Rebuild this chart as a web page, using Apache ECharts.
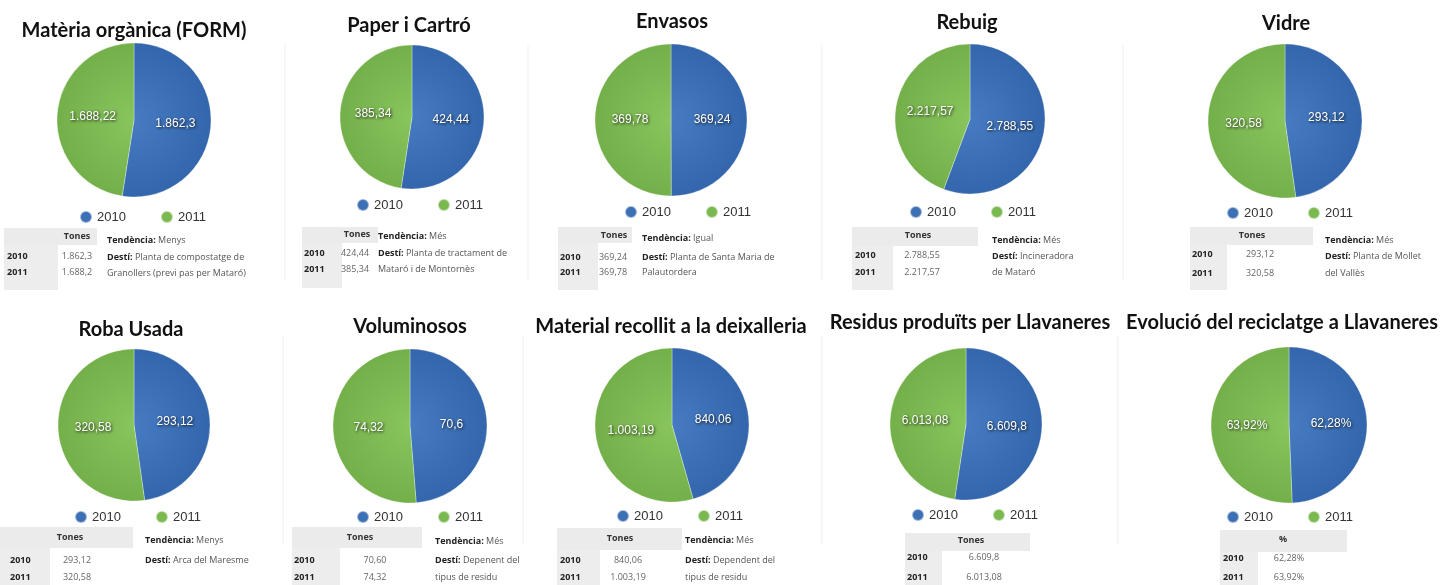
<!DOCTYPE html>
<html>
<head>
<meta charset="utf-8">
<script src="https://cdn.jsdelivr.net/npm/echarts/dist/echarts.min.js"></script>
<style>
html,body{margin:0;padding:0;background:#fff;}
#chart{width:1442px;height:585px;}
</style>
</head>
<body>
<div id="chart"></div>
<script>
// ---- data ----
const titles = ['Matèria orgànica (FORM)', 'Paper i Cartró', 'Envasos', 'Rebuig', 'Vidre',
  'Roba Usada', 'Voluminosos', 'Material recollit a la deixalleria', 'Residus produïts per Llavaneres',
  'Evolució del reciclatge a Llavaneres'];
const years = ['2010', '2011'];
const values2010 = [1862.3, 424.44, 369.24, 2788.55, 293.12, 293.12, 70.6, 840.06, 6609.8, 62.28];
const values2011 = [1688.22, 385.34, 369.78, 2217.57, 320.58, 320.58, 74.32, 1003.19, 6013.08, 63.92];
const tableHeaders = ['Tones', 'Tones', 'Tones', 'Tones', 'Tones', 'Tones', 'Tones', 'Tones', 'Tones', '%'];
const table2010 = ['1.862,3', '424,44', '369,24', '2.788,55', '293,12', '293,12', '70,60', '840,06', '6.609,8', '62,28%'];
const table2011 = ['1.688,2', '385,34', '369,78', '2.217,57', '320,58', '320,58', '74,32', '1.003,19', '6.013,08', '63,92%'];
const tendencia = ['Menys', 'Més', 'Igual', 'Més', 'Més', 'Menys', 'Més', 'Més', '', ''];
const destiLine1 = ['Planta de compostatge de', 'Planta de tractament de', 'Planta de Santa Maria de',
  'Incineradora', 'Planta de Mollet', 'Arca del Maresme', 'Depenent del', 'Dependent del', '', ''];
const destiLine2 = ['Granollers (previ pas per Mataró)', 'Mataró i de Montornès', 'Palautordera',
  'de Mataró', 'del Vallès', '', 'tipus de residu', 'tipus de residu', '', ''];
const percentPanel = [false, false, false, false, false, false, false, false, false, true];

// ---- layout (positions / sizes) ----
const layout = [
  {cx:134, cy:120, r:77, tx:134, ty:31, lx:80, ly:212,
   t:{gx:4, hw:93, cw:54, hy:228, hh:17, bot:290, hc:77, hty:236, vc:77, yx:7, rows:[256,272], rx:107, rys:[240,257,273]}},
  {cx:412, cy:117, r:72, tx:409, ty:26, lx:357, ly:200,
   t:{gx:302, hw:76, cw:40, hy:227, hh:16, bot:288, hc:357, hty:234, vc:355, yx:304, rows:[253,269], rx:378, rys:[236,253,269]}},
  {cx:671, cy:120, r:76, tx:672, ty:22, lx:625, ly:207,
   t:{gx:558, hw:74, cw:40, hy:227, hh:16, bot:290, hc:614, hty:235, vc:613, yx:560, rows:[257,272], rx:642, rys:[238,257,272]}},
  {cx:970, cy:119, r:75, tx:967, ty:23, lx:910, ly:207,
   t:{gx:852, hw:126, cw:41, hy:227, hh:19, bot:290, hc:918, hty:235, vc:922, yx:855, rows:[255,272], rx:992, rys:[240,256,272]}},
  {cx:1285, cy:121, r:77, tx:1286, ty:24, lx:1227, ly:208,
   t:{gx:1190, hw:123, cw:37, hy:227, hh:18, bot:290, hc:1252, hty:235, vc:1260, yx:1192, rows:[254,273], rx:1325, rys:[240,256,273]}},
  {cx:134, cy:425, r:76, tx:131, ty:330, lx:75, ly:512,
   t:{gx:0, hw:133, cw:50, hy:527, hh:21, bot:585, hc:70, hty:537, vc:77, yx:10, rows:[560,577], rx:145, rys:[540,560,577]}},
  {cx:410, cy:426, r:77, tx:410, ty:327, lx:357, ly:512,
   t:{gx:292, hw:130, cw:48, hy:527, hh:21, bot:585, hc:360, hty:537, vc:375, yx:294, rows:[560,577], rx:435, rys:[541,560,577]}},
  {cx:672, cy:425, r:77, tx:671, ty:327, lx:617, ly:511,
   t:{gx:557, hw:125, cw:43, hy:528, hh:22, bot:585, hc:620, hty:538, vc:628, yx:560, rows:[560,577], rx:685, rys:[540,560,577]}},
  {cx:966, cy:424, r:76, tx:970, ty:323, lx:912, ly:510,
   t:{gx:905, hw:125, cw:37, hy:533, hh:18, bot:585, hc:971, hty:540, vc:984, yx:907, rows:[557,577]}},
  {cx:1289, cy:425, r:78, tx:1282, ty:323, lx:1227, ly:512,
   t:{gx:1220, hw:127, cw:38, hy:530, hh:22, bot:585, hc:1283, hty:539, vc:1289, yx:1223, rows:[558,577]}}
];
const separators = [[285,45,280],[528,45,280],[822,45,280],[1123,45,280],[283,335,545],[523,335,545],[822,335,545],[1118,335,545]];

const BLUE = '#3d6fb5', GREEN = '#7ab850';
function fmt(v) {
  const parts = String(v).split('.');
  const ig = parts[0].replace(/\B(?=(\d{3})+(?!\d))/g, '.');
  return parts[1] ? ig + ',' + parts[1] : ig;
}
function radial(L, c0, c1) {
  return {type:'radial', x:L.cx, y:L.cy, r:L.r, global:true,
    colorStops:[{offset:0, color:c0}, {offset:1, color:c1}]};
}

const series = [], legends = [], graphic = [];
const TXT = "'Open Sans', sans-serif";
const FS = 9;
separators.forEach(s => graphic.push({type:'line', silent:true,
  shape:{x1:s[0], y1:s[1], x2:s[0], y2:s[2]}, style:{stroke:'#f0f0f0', lineWidth:1}}));

titles.forEach((title, i) => {
  const L = layout[i];
  series.push({
    type:'pie', center:[L.cx, L.cy], radius:L.r, startAngle:90, clockwise:true,
    legendHoverLink:false, animation:false,
    label:{show:true, position:'inside', color:'#fff', fontSize:12,
      fontFamily:"'Liberation Sans', Arial, sans-serif",
      textShadowColor:'rgba(0,0,0,0.85)', textShadowBlur:3, textShadowOffsetX:1, textShadowOffsetY:1,
      formatter: p => fmt(p.value) + (percentPanel[i] ? '%' : '')},
    labelLine:{show:false},
    itemStyle:{borderColor:'rgba(255,255,255,0.5)', borderWidth:0.6},
    emphasis:{disabled:true},
    data:[
      {name:years[0], value:values2010[i], itemStyle:{color:radial(L, '#467bc2', '#3366ac')}},
      {name:years[1], value:values2011[i], itemStyle:{color:radial(L, '#89c55d', '#74b04a')}}
    ]
  });
  legends.push({
    left:L.lx - 6, top:L.ly - 7, icon:'circle', itemWidth:12, itemHeight:12, itemGap:34,
    selectedMode:false,
    textStyle:{fontSize:13, color:'#333', fontFamily:"'Liberation Sans', Arial, sans-serif"},
    data:[{name:years[0], itemStyle:{color:BLUE}}, {name:years[1], itemStyle:{color:GREEN}}]
  });
  // title
  graphic.push({type:'text', silent:true, style:{text:title, x:L.tx, y:L.ty, textAlign:'center',
    textVerticalAlign:'middle', font:"bold 20px Lato, 'Open Sans', sans-serif", fill:'#111'}});
  // table
  const t = L.t;
  graphic.push({type:'rect', silent:true, shape:{x:t.gx, y:t.hy, width:t.hw, height:t.hh}, style:{fill:'#ebebeb'}});
  graphic.push({type:'rect', silent:true, shape:{x:t.gx, y:t.hy + t.hh, width:t.cw, height:t.bot - t.hy - t.hh}, style:{fill:'#ededed'}});
  graphic.push({type:'text', silent:true, style:{text:tableHeaders[i], x:t.hc, y:t.hty, textAlign:'center',
    textVerticalAlign:'middle', font:"bold " + FS + "px " + TXT, fill:'#333'}});
  [table2010[i], table2011[i]].forEach((v, k) => {
    graphic.push({type:'text', silent:true, style:{text:years[k], x:t.yx, y:t.rows[k], textAlign:'left',
      textVerticalAlign:'middle', font:"bold " + FS + "px " + TXT, fill:'#222'}});
    graphic.push({type:'text', silent:true, style:{text:v, x:t.vc, y:t.rows[k], textAlign:'center',
      textVerticalAlign:'middle', font:FS + "px " + TXT, fill:'#666'}});
  });
  if (tendencia[i]) {
    const lines = [['Tendència:', tendencia[i]], ['Destí:', destiLine1[i]], ['', destiLine2[i]]];
    lines.forEach((ln, k) => {
      if (!ln[0] && !ln[1]) return;
      const txt = (ln[0] ? '{b|' + ln[0] + '} ' : '') + ln[1];
      graphic.push({type:'text', silent:true, style:{text:txt, x:t.rx, y:t.rys[k], textAlign:'left',
        textVerticalAlign:'middle', font:FS + "px " + TXT, fill:'#555',
        rich:{b:{font:"bold " + FS + "px " + TXT, fill:'#222', color:'#222'}}}});
    });
  }
});

const chart = echarts.init(document.getElementById('chart'), null, {renderer:'canvas'});
chart.setOption({
  animation:false,
  backgroundColor:'#ffffff',
  tooltip:{show:false},
  legend:legends,
  series:series,
  graphic:graphic
});
</script>
</body>
</html>
